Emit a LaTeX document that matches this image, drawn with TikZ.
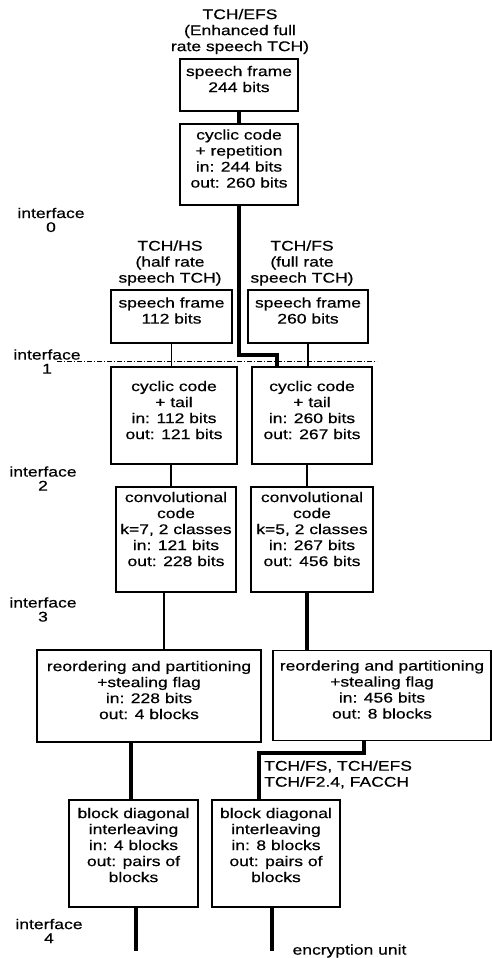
\documentclass[tikz,border=0pt]{standalone}
\usepackage{fontspec}
\setmainfont[FakeStretch=1.25,FakeBold=0.6]{Liberation Sans}
\usetikzlibrary{positioning,calc}
\tikzset{
  box/.style={rectangle, draw, line width=1.6pt, align=center, inner sep=2pt,
              font=\fontsize{14}{16}\selectfont, text depth=#1},
  box/.default=12pt,
  lbl/.style={align=center, inner sep=0pt, font=\fontsize{14}{16}\selectfont},
  iflbl/.style={align=center, inner sep=0pt, font=\fontsize{14}{14}\selectfont},
  thinline/.style={line width=1.4pt},
  thickline/.style={line width=3.4pt},
  ifline/.style={line width=1pt, dash pattern=on 5pt off 2pt on 1pt off 2pt}
}
\begin{document}
\begin{tikzpicture}[x=1pt, y=-1pt]
  \useasboundingbox (0,0) rectangle (492,958);
  % titles of the three speech channels
  \node[lbl] (efstitle) at (240,31.5) {TCH/EFS\\(Enhanced full\\rate speech TCH)};
  \node[lbl] (hstitle) at (170,263) {TCH/HS\\(half rate\\speech TCH)};
  \node[lbl] (fstitle) at (302,263) {TCH/FS\\(full rate\\speech TCH)};
  % enhanced full rate branch
  \node[box, minimum width=118pt, minimum height=52pt] (efsframe) at (239,85) {speech frame\\244 bits};
  \node[box, minimum width=118pt, minimum height=81pt] (efscyc) at (239,164.5) {cyclic code\\+ repetition\\in: 244 bits\\out: 260 bits};
  % half rate branch
  \node[box, minimum width=121pt, minimum height=53pt] (hsframe) at (171.5,316.5) {speech frame\\112 bits};
  \node[box=11pt, minimum width=126pt, minimum height=97pt] (hscyc) at (174,415.5) {cyclic code\\+ tail\\in: 112 bits\\out: 121 bits};
  \node[box=21pt, minimum width=120pt, minimum height=105pt] (hsconv) at (176,539.5) {convolutional\\code\\k=7, 2 classes\\in: 121 bits\\out: 228 bits};
  \node[box, minimum width=224pt, minimum height=92pt] (hsreord) at (149,696) {reordering and partitioning\\+stealing flag\\in: 228 bits\\out: 4 blocks};
  \node[box=17pt, minimum width=129pt, minimum height=107pt] (hsblock) at (133.5,853.5) {block diagonal\\interleaving\\in: 4 blocks\\out: pairs of\\blocks};
  % full rate branch
  \node[box, minimum width=120pt, minimum height=53pt] (fsframe) at (308,316.5) {speech frame\\260 bits};
  \node[box=11pt, minimum width=120pt, minimum height=97pt] (fscyc) at (312,415.5) {cyclic code\\+ tail\\in: 260 bits\\out: 267 bits};
  \node[box=21pt, minimum width=122pt, minimum height=105pt] (fsconv) at (312,539.5) {convolutional\\code\\k=5, 2 classes\\in: 267 bits\\out: 456 bits};
  \node[box, minimum width=218pt, minimum height=90pt] (fsreord) at (382,695.5) {reordering and partitioning\\+stealing flag\\in: 456 bits\\out: 8 blocks};
  \node[box=17pt, minimum width=128pt, minimum height=107pt] (fsblock) at (276,853.5) {block diagonal\\interleaving\\in: 8 blocks\\out: pairs of\\blocks};
  \node[lbl, align=left, anchor=west] (fslabel) at (264,774.5) {TCH/FS, TCH/EFS\\TCH/F2.4, FACCH};
  % interfaces
  \node[iflbl] (if0) at (51,220) {interface\\0};
  \node[iflbl] (if1) at (47,361.5) {interface\\1};
  \node[iflbl] (if2) at (43,478.5) {interface\\2};
  \node[iflbl] (if3) at (43,609.5) {interface\\3};
  \node[iflbl] (if4) at (49,931) {interface\\4};
  \node[lbl] (encunit) at (349.5,951) {encryption unit};
  \coordinate (ifstart) at (57,361);
  \coordinate (ifend) at (377,361);
  \draw[ifline] (ifstart) -- (ifend);
  % connectors
  \coordinate (efsbend) at (277,355);
  \coordinate (fsbend) at (259,753);
  \coordinate (hsout) at (136,951);
  \coordinate (fsout) at (272,951);
  \draw[thickline] (efsframe) -- (efscyc);
  \draw[thickline] (efscyc.south) |- (efsbend) -- (efsbend |- fscyc.north);
  \draw[thinline] (hsframe.south) -- (hsframe.south |- hscyc.north);
  \draw[thinline] (fsframe.south) -- (fsframe.south |- fscyc.north);
  \draw[thinline] ([xshift=-3pt]hscyc.south) -- ([xshift=-3pt]hscyc.south |- hsconv.north);
  \draw[thinline] ([xshift=-5pt]fscyc.south) -- ([xshift=-5pt]fscyc.south |- fsconv.north);
  \draw[thinline] ([xshift=-12pt]hsconv.south) -- ([xshift=-12pt]hsconv.south |- hsreord.north);
  \draw[thickline] ([xshift=-5pt]fsconv.south) -- ([xshift=-5pt]fsconv.south |- fsreord.north);
  \draw[thickline] ([xshift=-18pt]hsreord.south) -- ([xshift=-18pt]hsreord.south |- hsblock.north);
  \draw[thickline] ([xshift=-18pt]fsreord.south) |- (fsbend) -- (fsbend |- fsblock.north);
  \draw[thickline] (hsblock.south -| hsout) -- (hsout);
  \draw[thickline] (fsblock.south -| fsout) -- (fsout);
\end{tikzpicture}
\end{document}
